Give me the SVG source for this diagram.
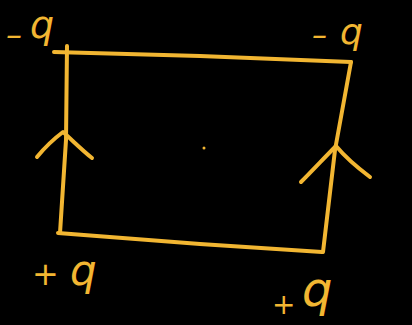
<svg xmlns="http://www.w3.org/2000/svg" width="412" height="325" viewBox="0 0 412 325">
<style>
.s{fill:none;stroke:#f2b632;stroke-width:4;stroke-linecap:round;stroke-linejoin:round}
.t{fill:#f2b632;font-family:"DejaVu Sans",sans-serif;font-style:italic}
</style>
<rect width="412" height="325" fill="#000"/>
<g id="rect">
<path class="s" d="M54 52 L200 56 L351 62"/>
<path class="s" d="M67 46 L66 140 L60 233"/>
<path class="s" d="M351 62 L335 150 L323 252"/>
<path class="s" d="M58 233 L200 244 L322 252"/>
</g>
<g id="arrows">
<path class="s" d="M37 157 C46 146 55 138 63 132 C72 140 82 150 92 158"/>
<path class="s" d="M301 182 C313 170 326 156 336 146 C346 158 358 168 370 177"/>
</g>
<circle cx="204" cy="148" r="1.5" fill="#f2b632"/>
<g id="labels">
<text class="t" x="6" y="46" font-size="32">–</text>
<text class="t" x="30" y="38" font-size="38">q</text>
<text class="t" x="312" y="45" font-size="30">–</text>
<text class="t" x="340" y="44" font-size="36">q</text>
<text class="t" x="32" y="285" font-size="32">+</text>
<text class="t" x="70" y="285" font-size="42">q</text>
<text class="t" x="272" y="314" font-size="28">+</text>
<text class="t" x="302" y="306" font-size="48">q</text>
</g>
</svg>
